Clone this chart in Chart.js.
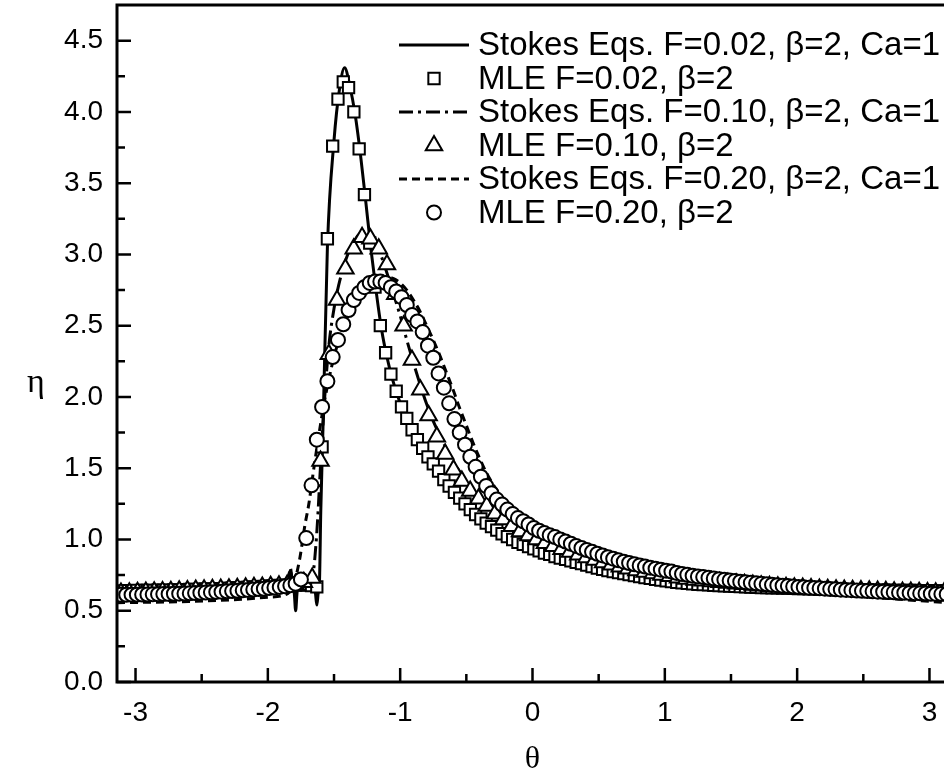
<!DOCTYPE html>
<html><head><meta charset="utf-8">
<script src="https://cdn.jsdelivr.net/npm/chart.js@4.4.1/dist/chart.umd.min.js"></script>
<style>html,body{margin:0;padding:0;overflow:hidden;background:#fff;width:944px;height:773px}canvas{display:block}</style>
</head><body>
<canvas id="c" width="948" height="773" style="width:948px;height:773px"></canvas>
<script>
// ---------- DATA ----------
const xTicks = [-3,-2,-1,0,1,2,3];
const xMinorTicks = [-2.5,-1.5,-0.5,0.5,1.5,2.5];
const yTicks = [0,0.5,1,1.5,2,2.5,3,3.5,4,4.5];
const yMinorTicks = [0.25,0.75,1.25,1.75,2.25,2.75,3.25,3.75,4.25];
const xTitle = '\u03b8';
const yTitle = '\u03b7';

const seriesLabels = [
  'Stokes Eqs. F=0.02, \u03b2=2, Ca=1',
  'MLE F=0.02, \u03b2=2',
  'Stokes Eqs. F=0.10, \u03b2=2, Ca=1',
  'MLE F=0.10, \u03b2=2',
  'Stokes Eqs. F=0.20, \u03b2=2, Ca=1',
  'MLE F=0.20, \u03b2=2'
];

// MLE sample angles (F=0.02 and F=0.20)
const thetaMLE = [-3.11,-3.07,-3.03,-2.99,-2.95,-2.91,-2.87,-2.83,-2.79,-2.75,-2.71,-2.67,-2.63,-2.59,-2.55,-2.51,-2.47,-2.43,-2.39,-2.35,-2.31,-2.27,-2.23,-2.19,-2.15,-2.11,-2.07,-2.03,-1.99,-1.95,-1.91,-1.87,-1.83,-1.79,-1.75,-1.71,-1.67,-1.63,-1.59,-1.55,-1.51,-1.47,-1.43,-1.39,-1.35,-1.31,-1.27,-1.23,-1.19,-1.15,-1.11,-1.07,-1.03,-0.99,-0.95,-0.91,-0.87,-0.83,-0.79,-0.75,-0.71,-0.67,-0.63,-0.59,-0.55,-0.51,-0.47,-0.43,-0.39,-0.35,-0.31,-0.27,-0.23,-0.19,-0.15,-0.11,-0.07,-0.03,0.01,0.05,0.09,0.13,0.17,0.21,0.25,0.29,0.33,0.37,0.41,0.45,0.49,0.53,0.57,0.61,0.65,0.69,0.73,0.77,0.81,0.85,0.89,0.93,0.97,1.01,1.05,1.09,1.13,1.17,1.21,1.25,1.29,1.33,1.37,1.41,1.45,1.49,1.53,1.57,1.61,1.65,1.69,1.73,1.77,1.81,1.85,1.89,1.93,1.97,2.01,2.05,2.09,2.13,2.17,2.21,2.25,2.29,2.33,2.37,2.41,2.45,2.49,2.53,2.57,2.61,2.65,2.69,2.73,2.77,2.81,2.85,2.89,2.93,2.97,3.01,3.05,3.09,3.13];

const etaMLE002 = [0.640,0.641,0.641,0.642,0.642,0.643,0.643,0.644,0.645,0.645,
0.646,0.647,0.648,0.649,0.650,0.651,0.652,0.653,0.654,0.655,
0.657,0.658,0.660,0.661,0.663,0.665,0.667,0.669,0.671,0.673,
0.675,0.677,0.679,0.680,0.681,0.680,0.676,0.668,
1.65,3.11,3.76,4.09,4.21,4.17,4.00,3.74,3.42,3.08,2.77,2.50,2.31,2.16,2.04,
1.93,1.85,1.77,1.70,1.64,1.58,1.53,1.48,1.42,1.375,1.33,1.29,1.25,1.21,1.175,1.145,1.115,1.09,1.065,1.04,1.02,1.0,0.98,0.965,0.95,
0.935,0.92,0.905,0.895,0.88,0.87,0.86,0.85,0.84,0.83,0.82,0.81,0.80,0.79,0.782,0.775,0.768,0.76,0.753,0.746,0.74,0.733,0.727,0.72,0.715,0.71,0.705,0.70,
0.695,0.692,0.689,0.686,0.683,0.681,0.679,
0.677,0.675,0.673,0.671,0.669,0.667,0.666,0.664,0.663,0.662,0.661,0.660,0.659,0.658,0.657,0.656,0.655,0.654,0.653,0.652,0.651,0.650,0.650,0.649,0.648,0.648,0.647,0.646,0.646,0.645,0.645,0.644,0.644,0.643,0.643,0.642,0.642,0.642,0.641,0.641,0.641,0.640,0.640,0.640];

const etaMLE020 = [0.612,0.612,0.613,0.613,0.614,0.614,0.615,0.616,0.617,0.618,
0.619,0.620,0.621,0.622,0.624,0.626,0.628,0.630,0.632,0.634,
0.636,0.638,0.640,0.643,0.646,0.649,0.652,0.655,0.659,0.663,
0.667,0.672,0.678,0.690,
0.72,1.01,1.38,1.70,1.93,2.11,2.28,2.40,2.51,2.61,2.68,2.73,2.77,2.80,2.81,2.81,2.80,2.77,2.74,
2.70,2.645,2.575,2.53,2.455,2.36,2.275,2.165,2.065,1.955,1.845,
1.75,1.665,1.58,1.51,1.44,1.375,1.325,1.28,1.245,1.21,1.178,1.15,1.128,1.105,1.08,1.061,1.045,1.03,1.017,1.0,0.985,0.97,0.955,0.94,0.926,0.913,0.90,0.888,0.876,0.865,0.854,0.844,0.835,0.826,0.818,0.81,0.802,0.795,0.788,0.781,0.775,0.765,
0.758,0.752,0.746,0.741,0.736,0.731,0.726,0.721,0.717,0.712,0.708,0.704,0.700,0.696,0.692,0.689,0.685,0.682,0.679,0.676,0.673,0.670,0.667,0.665,0.662,0.660,0.657,0.655,0.652,0.650,0.648,0.646,0.644,0.642,0.640,0.638,0.636,0.634,0.633,0.631,0.629,0.628,0.626,0.625,0.623,0.622,0.621,0.619,0.618,0.617,0.616];

// MLE sample angles (F=0.10)
const thetaMLE010 = [-3.110,-3.047,-2.985,-2.922,-2.859,-2.796,-2.733,-2.670,-2.608,-2.545,-2.482,-2.419,-2.356,-2.294,-2.231,-2.168,-2.105,-2.042,-1.979,-1.916,-1.854,-1.791,-1.728,-1.665,-1.602,-1.539,-1.477,-1.414,-1.351,-1.288,-1.225,-1.162,-1.100,-1.037,-0.974,-0.911,-0.848,-0.785,-0.723,-0.660,-0.597,-0.534,-0.471,-0.408,-0.346,-0.283,-0.220,-0.157,-0.094,-0.031,0.031,0.094,0.157,0.220,0.283,0.346,0.408,0.471,0.534,0.597,0.660,0.723,0.785,0.848,0.911,0.974,1.037,1.100,1.162,1.225,1.288,1.351,1.414,1.477,1.539,1.602,1.665,1.728,1.791,1.854,1.916,1.979,2.042,2.105,2.168,2.231,2.294,2.356,2.419,2.482,2.545,2.608,2.670,2.733,2.796,2.859,2.922,2.985,3.047,3.110];

const etaMLE010 = [0.625,0.627,0.629,0.631,0.633,0.635,0.637,0.640,0.642,0.645,0.647,0.650,0.652,0.655,0.658,0.661,0.664,0.667,0.671,0.675,0.680,0.686,0.70,0.73,
1.55,2.30,2.68,2.90,3.04,3.12,3.11,3.04,2.93,2.72,2.50,2.26,2.05,1.87,1.72,1.60,1.49,1.41,1.34,1.285,1.235,
1.18,1.14,1.093,1.056,1.028,1.0,0.974,0.952,0.932,0.912,0.893,0.874,0.856,0.839,0.823,0.809,0.795,0.783,0.772,0.761,0.751,0.742,0.732,0.723,0.716,0.71,0.705,0.699,0.694,
0.689,0.685,0.68,0.676,0.672,0.668,0.665,0.662,0.659,0.656,0.653,0.651,0.648,0.646,0.644,0.642,0.64,0.638,0.636,0.634,0.632,0.631,0.629,0.628,0.627,0.626];

// Stokes solutions
const thetaS002 = [-3.14,-2.8,-2.4,-2.1,-1.9,-1.85,-1.83,-1.815,-1.8,-1.79,-1.78,-1.77,-1.7,-1.66,-1.64,-1.63,-1.62,-1.61,-1.6,-1.58,-1.55,-1.5,-1.46,-1.42,-1.38,-1.34,-1.3,-1.26,-1.22,-1.18,-1.14,-1.1,-1.06,-1.02,-0.98,-0.9,-0.8,-0.7,-0.6,-0.5,-0.4,-0.3,-0.2,-0.1,0,0.2,0.4,0.6,0.8,1,1.2,1.5,2,2.5,3.14];
const etaS002 = [0.665,0.675,0.69,0.705,0.715,0.72,0.78,0.71,0.62,0.5,0.62,0.7,0.71,0.7,0.62,0.54,0.62,0.7,1.2,1.9,3.05,3.8,4.15,4.31,4.18,3.98,3.7,3.37,3.03,2.73,2.47,2.28,2.13,2.01,1.91,1.755,1.595,1.465,1.34,1.235,1.15,1.08,1.02,0.975,0.935,0.87,0.82,0.78,0.74,0.71,0.69,0.675,0.665,0.662,0.665];

const thetaS010 = [-3.14,-2.6,-2.2,-1.95,-1.85,-1.83,-1.81,-1.75,-1.7,-1.66,-1.63,-1.6,-1.57,-1.54,-1.5,-1.45,-1.4,-1.35,-1.3,-1.26,-1.22,-1.18,-1.14,-1.1,-1.05,-1,-0.95,-0.9,-0.85,-0.8,-0.75,-0.7,-0.6,-0.5,-0.4,-0.3,-0.2,-0.1,0,0.2,0.4,0.6,0.8,1,1.2,1.5,2,2.5,3.14];
const etaS010 = [0.60,0.615,0.635,0.66,0.69,0.80,0.68,0.70,0.72,0.76,1.05,1.55,2.0,2.35,2.62,2.84,2.99,3.09,3.15,3.16,3.13,3.07,2.98,2.87,2.72,2.57,2.40,2.24,2.09,1.95,1.83,1.73,1.55,1.41,1.30,1.21,1.14,1.08,1.03,0.95,0.885,0.835,0.79,0.755,0.725,0.695,0.66,0.635,0.60];

const thetaS020 = [-3.14,-2.6,-2.2,-2.0,-1.85,-1.8,-1.76,-1.72,-1.69,-1.66,-1.62,-1.58,-1.54,-1.5,-1.45,-1.4,-1.35,-1.3,-1.25,-1.2,-1.15,-1.1,-1.05,-1,-0.95,-0.9,-0.85,-0.8,-0.75,-0.7,-0.65,-0.6,-0.55,-0.5,-0.45,-0.4,-0.35,-0.3,-0.25,-0.2,-0.1,0,0.2,0.4,0.6,0.8,1,1.2,1.5,2,2.5,3.14];
const etaS020 = [0.556,0.565,0.58,0.595,0.62,0.70,0.86,1.10,1.25,1.45,1.70,1.93,2.12,2.28,2.44,2.56,2.66,2.73,2.78,2.82,2.84,2.845,2.83,2.80,2.75,2.68,2.60,2.50,2.40,2.29,2.17,2.05,1.92,1.80,1.68,1.57,1.47,1.39,1.32,1.26,1.17,1.10,1.01,0.935,0.875,0.82,0.78,0.745,0.70,0.645,0.60,0.556];

// ---------- CHART ----------
const SANS = '"Liberation Sans", Arial, sans-serif';
const SERIF = '"Liberation Serif", "Times New Roman", serif';
function pts(xs, ys){ return xs.map((x,i)=>({x:x, y:ys[i]})); }

const lineDs = (label, xs, ys, dash, ord) => ({
  label, data: pts(xs, ys), showLine: true, pointRadius: 0, borderColor: '#000',
  borderWidth: 3, borderDash: dash, cubicInterpolationMode: 'monotone', order: ord, fill: false
});
const markDs = (label, xs, ys, style, r, ord) => ({
  label, data: pts(xs, ys), showLine: false, pointStyle: style, pointRadius: r,
  pointBackgroundColor: '#fff', pointBorderColor: '#000', pointBorderWidth: 2, order: ord
});

const LG = {x1: 399, x2: 469, xm: 434, tx: 478, top: 45, step: 33.5, font: '33px ' + SANS};

const legendPlugin = {
  id: 'customLegend',
  afterDraw(chart){
    const ctx = chart.ctx;
    ctx.save();
    chart.data.datasets.forEach((ds, i) => {
      const y = LG.top + i * LG.step;
      if (ds.showLine) {
        ctx.beginPath();
        ctx.setLineDash(ds.borderDash || []);
        ctx.lineWidth = ds.borderWidth;
        ctx.strokeStyle = '#000';
        ctx.moveTo(LG.x1, y); ctx.lineTo(LG.x2, y); ctx.stroke();
        ctx.setLineDash([]);
      } else {
        ctx.fillStyle = '#fff'; ctx.strokeStyle = '#000'; ctx.lineWidth = ds.pointBorderWidth;
        Chart.helpers.drawPoint(ctx, {pointStyle: ds.pointStyle, radius: ds.pointRadius, borderWidth: ds.pointBorderWidth, rotation: 0}, LG.xm, y);
      }
      ctx.fillStyle = '#000';
      ctx.font = LG.font;
      ctx.textBaseline = 'middle';
      ctx.textAlign = 'left';
      ctx.fillText(ds.label, LG.tx, y + 1);
    });
    ctx.restore();
  }
};

const framePlugin = {
  id: 'frame',
  afterDraw(chart){
    const {ctx, chartArea: a, scales} = chart;
    const xs = scales.x, ys = scales.y;
    ctx.save();
    ctx.strokeStyle = '#000'; ctx.setLineDash([]);
    ctx.lineWidth = 3;
    ctx.strokeRect(a.left, a.top, a.right - a.left, a.bottom - a.top);
    ctx.lineWidth = 2.5;
    ctx.beginPath();
    yTicks.forEach(v => { const p = ys.getPixelForValue(v); ctx.moveTo(a.left, p); ctx.lineTo(a.left + 14, p); });
    yMinorTicks.forEach(v => { const p = ys.getPixelForValue(v); ctx.moveTo(a.left, p); ctx.lineTo(a.left + 8, p); });
    xTicks.forEach(v => { const p = xs.getPixelForValue(v); ctx.moveTo(p, a.bottom); ctx.lineTo(p, a.bottom - 14); });
    xMinorTicks.forEach(v => { const p = xs.getPixelForValue(v); ctx.moveTo(p, a.bottom); ctx.lineTo(p, a.bottom - 8); });
    ctx.stroke();
    // upright y-axis title
    ctx.fillStyle = '#000';
    ctx.font = '34px ' + SERIF;
    ctx.textAlign = 'center';
    ctx.textBaseline = 'middle';
    ctx.fillText(yTitle, 36, ys.getPixelForValue(2.1));
    ctx.restore();
  }
};

new Chart(document.getElementById('c'), {
  type: 'scatter',
  data: {
    datasets: [
      lineDs(seriesLabels[0], thetaS002, etaS002, [], 6),
      markDs(seriesLabels[1], thetaMLE, etaMLE002, 'rect', 8, 3),
      lineDs(seriesLabels[2], thetaS010, etaS010, [14, 5, 3, 5], 5),
      markDs(seriesLabels[3], thetaMLE010, etaMLE010, 'triangle', 9.5, 2),
      lineDs(seriesLabels[4], thetaS020, etaS020, [8, 5], 4),
      markDs(seriesLabels[5], thetaMLE, etaMLE020, 'circle', 7, 1)
    ]
  },
  options: {
    responsive: false, devicePixelRatio: 1, animation: false, events: [],
    layout: {autoPadding: false, padding: {top: 5, left: 0, right: 0, bottom: 0}},
    plugins: {legend: {display: false}, tooltip: {enabled: false}},
    scales: {
      x: {
        type: 'linear', min: -3.14, max: 3.14,
        afterBuildTicks: s => { s.ticks = xTicks.map(v => ({value: v})); },
        afterFit: s => { s.height = 91; s.paddingLeft = 0; s.paddingRight = 0; },
        grid: {display: false, drawTicks: false}, border: {display: false},
        ticks: {color: '#000', font: {family: SANS, size: 28}, padding: 14, autoSkip: false, maxRotation: 0, callback: v => String(v)},
        title: {display: true, text: xTitle, color: '#000', font: {family: SERIF, size: 32}, padding: {top: 0, bottom: -6}}
      },
      y: {
        type: 'linear', min: 0, max: 4.75,
        afterBuildTicks: s => { s.ticks = yTicks.map(v => ({value: v})); },
        afterFit: s => { s.width = 117; s.paddingTop = 0; s.paddingBottom = 0; },
        grid: {display: false, drawTicks: false}, border: {display: false},
        ticks: {color: '#000', font: {family: SANS, size: 28}, padding: 14, autoSkip: false, callback: v => Number(v).toFixed(1)},
        title: {display: false}
      }
    }
  },
  plugins: [framePlugin, legendPlugin]
});
</script>
</body></html>
